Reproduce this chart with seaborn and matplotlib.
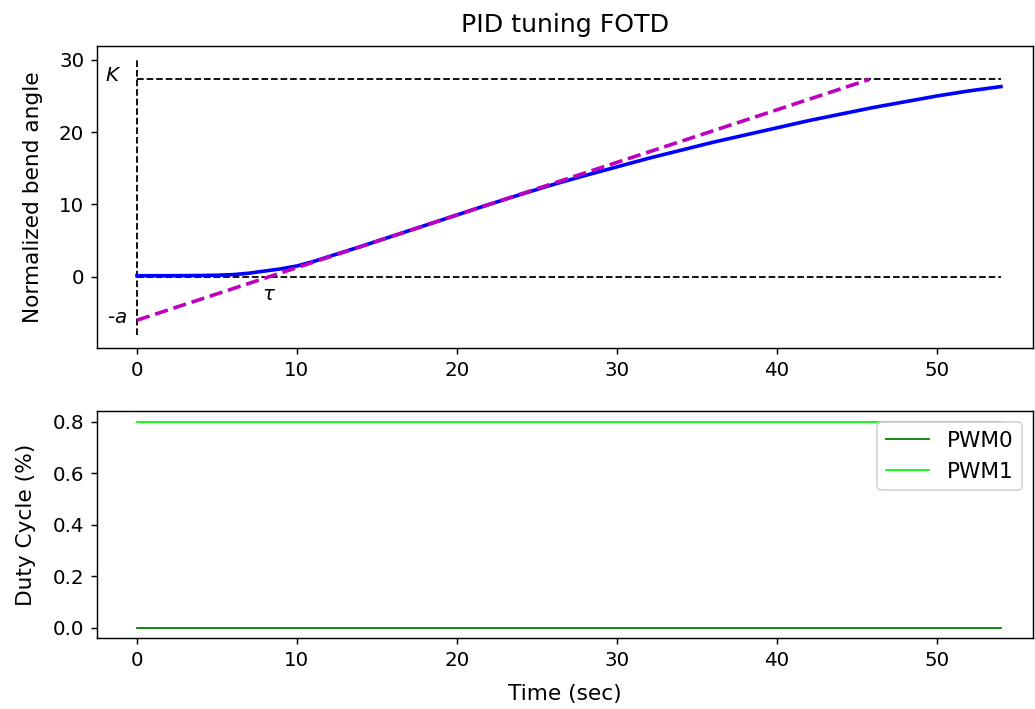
import numpy as np
import pandas as pd
import seaborn as sns
import matplotlib.pyplot as plt

# step response (sec, normalized bend angle)
time = [0, 2, 4, 5, 6, 7, 8, 9, 10, 11, 12, 14, 16, 18, 20, 22, 24, 26,
        28, 30, 32, 34, 36, 38, 40, 42, 44, 46, 48, 50, 52, 54]
bend = [0.15, 0.15, 0.18, 0.22, 0.3, 0.5, 0.8, 1.1, 1.5, 2.1, 2.8, 4.2, 5.65, 7.1, 8.55, 10.0, 11.4, 12.75,
        14.0, 15.2, 16.4, 17.5, 18.6, 19.6, 20.6, 21.6, 22.5, 23.4, 24.2, 25.0, 25.7, 26.3]
pwm0 = [0.0] * len(time)
pwm1 = [0.8] * len(time)

# FOTD parameters
K = 27.3
a = 6.0
tau = 8.25

t_end = time[-1]
t_K = (K + a) * tau / a
tangent_t = [0, t_K]
tangent_y = [-a, K]

plt.rcParams["xtick.labelsize"] = 11
plt.rcParams["ytick.labelsize"] = 11
plt.rcParams["axes.labelsize"] = 12

fig, (ax1, ax2) = plt.subplots(2, 1, figsize=(1035 / 130, 709 / 130), dpi=130,
                               gridspec_kw={"height_ratios": [4, 3]})
fig.subplots_adjust(left=0.0937, right=0.998, top=0.935, bottom=0.1, hspace=0.238)

# reference lines
for xs, ys in [([0, t_end], [K, K]), ([0, t_end], [0, 0]), ([0, 0], [-8, 30])]:
    sns.lineplot(x=xs, y=ys, ax=ax1, color="k", lw=1, linestyle="--",
                 estimator=None, sort=False)

sns.lineplot(x=time, y=bend, ax=ax1, color="b", lw=2, estimator=None)
sns.lineplot(x=tangent_t, y=tangent_y, ax=ax1, color="m", lw=2, linestyle="--",
             estimator=None, sort=False)

ax1.text(-1.5, K + 0.6, r"$K$", ha="center", va="center", fontsize=11)
ax1.text(-1.25, -a + 0.4, r"-$a$", ha="center", va="center", fontsize=11)
ax1.text(tau, -2.4, r"$\tau$", ha="center", va="center", fontsize=11)

ax1.set_title("PID tuning FOTD", fontsize=14, pad=8)
ax1.set_ylabel("Normalized bend angle", labelpad=9)
ax1.set_yticks([0, 10, 20, 30])
ax1.set_xlim(-2.5, 56)

sns.lineplot(x=time, y=pwm0, ax=ax2, color="g", lw=1, label="PWM0", estimator=None)
sns.lineplot(x=time, y=pwm1, ax=ax2, color="#00ff00", lw=1, label="PWM1", estimator=None)
ax2.legend(loc="upper right", fontsize=12)
ax2.set_ylabel("Duty Cycle (%)", labelpad=9)
ax2.set_xlabel("Time (sec)", labelpad=8)
ax2.set_xlim(-2.5, 56)

fig.savefig("out.png")
